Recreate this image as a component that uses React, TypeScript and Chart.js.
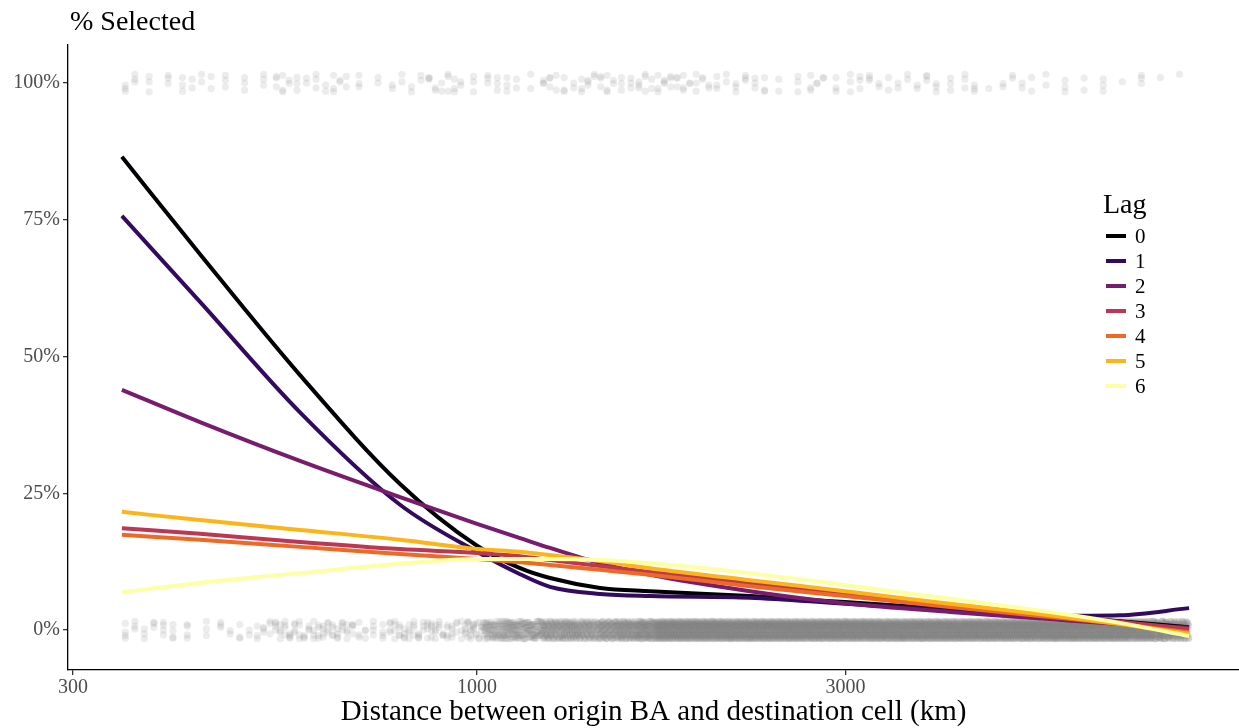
import { useEffect, useRef } from 'react';
import { Chart, registerables } from 'chart.js';

Chart.register(...registerables);

// ---- Data ----
const DISTANCE_KM = [347, 438, 590, 795, 1000, 1137, 1243, 1443, 1675, 2256, 2994, 4095, 5516, 6797, 8350];
const LAG_0 = [86.5, 68.7, 46.6, 26.7, 15.4, 11.3, 9.5, 7.7, 7.1, 6.2, 5.1, 3.8, 2.6, 1.6, 0.5];
const LAG_1 = [75.7, 60.0, 39.8, 22.9, 14.3, 10.2, 7.9, 6.6, 6.2, 5.9, 4.8, 3.7, 2.6, 2.7, 4.0];
const LAG_2 = [43.9, 38.0, 30.9, 24.3, 19.4, 16.8, 15.0, 12.2, 10.1, 7.1, 4.9, 3.3, 2.0, 1.1, 0.4];
const LAG_3 = [18.6, 17.6, 16.1, 14.8, 14.1, 13.5, 12.8, 11.7, 10.6, 8.6, 6.6, 4.6, 2.7, 1.5, 0.2];
const LAG_4 = [17.4, 16.5, 15.2, 13.9, 13.0, 12.4, 11.9, 11.0, 10.1, 8.0, 6.2, 4.2, 2.4, 1.1, -0.4];
const LAG_5 = [21.6, 20.1, 18.3, 16.5, 14.8, 14.3, 13.7, 12.6, 11.3, 9.1, 7.1, 4.8, 2.7, 1.1, -0.7];
const LAG_6 = [6.9, 8.6, 10.4, 12.1, 13.0, 13.0, 13.0, 12.8, 12.2, 10.4, 8.2, 5.7, 3.3, 1.3, -1.1];
const LAG_SERIES = [LAG_0, LAG_1, LAG_2, LAG_3, LAG_4, LAG_5, LAG_6];
const LAG_LABELS = ['0', '1', '2', '3', '4', '5', '6'];
const LAG_COLORS = ['#000004', '#320A5E', '#781C6D', '#BB3754', '#ED6925', '#FCB519', '#FCFFA4'];

const X_TICKS = [300, 1000, 3000];
const Y_TICKS = [0, 25, 50, 75, 100];

// Observed cells (jittered rug at 100% and 0%), counts per log10-distance bin
const BIN_LOG_START = 2.5385;
const BIN_LOG_STEP = 0.0247;
const SELECTED_COUNTS = [6, 3, 3, 5, 4, 3, 3, 3, 8, 5, 5, 7, 3, 2, 4, 4, 7, 8, 3, 6, 5, 2, 8, 5, 8, 8, 6, 8, 9, 8, 7, 5, 6, 6, 2, 3, 7, 3, 6, 5, 4, 4, 6, 3, 6, 1, 4, 4, 2, 3, 2, 3, 1, 3, 1, 1];
const NOT_SELECTED_COUNTS = [7, 6, 8, 4, 3, 5, 5, 9, 16, 14, 16, 16, 10, 8, 16, 15, 18, 14, 25, 60, 75, 70, 90, 95, 85, 100, 110, 125, 160, 160, 160, 160, 160, 160, 160, 160, 160, 160, 160, 160, 160, 160, 160, 160, 160, 160, 160, 160, 160, 160, 160, 160, 160, 150, 140, 110];
const JITTER = [-1.5, 0.7, -0.4, 1.6, -1.0, 0.2, 1.2, -1.6, 0.5, -0.7, 1.4, -0.1, 0.9, -1.3, 0.0, 1.0, -0.9];

const FONT = "'Liberation Serif', 'DejaVu Serif', serif";

function bandPoints(counts: number[], level: number, perColumn: number) {
  const pts: { x: number; y: number }[] = [];
  counts.forEach((n, k) => {
    const cols = Math.max(1, Math.ceil(n / perColumn));
    for (let i = 0; i < n; i++) {
      const col = i % cols;
      const lg = BIN_LOG_START + (k + (col + 0.5) / cols) * BIN_LOG_STEP;
      pts.push({ x: Math.pow(10, lg), y: level + JITTER[(i + k * 5) % JITTER.length] });
    }
  });
  return pts;
}

const overlayPlugin = {
  id: 'overlay',
  afterDraw(chart: any) {
    const ctx = chart.ctx as CanvasRenderingContext2D;
    const area = chart.chartArea;
    ctx.save();
    ctx.fillStyle = '#000';
    ctx.textAlign = 'left';
    ctx.textBaseline = 'middle';
    ctx.font = `28px ${FONT}`;
    ctx.fillText('% Selected', area.left + 2, 23);
    // legend
    const lx = area.right - 136;
    ctx.fillText('Lag', lx, 206);
    ctx.font = `21px ${FONT}`;
    LAG_LABELS.forEach((lab, i) => {
      const y = 236 + i * 25;
      ctx.strokeStyle = LAG_COLORS[i];
      ctx.lineWidth = 4;
      ctx.lineCap = 'butt';
      ctx.beginPath();
      ctx.moveTo(lx + 3, y);
      ctx.lineTo(lx + 23, y);
      ctx.stroke();
      ctx.fillText(lab, lx + 32, y + 1);
    });
    ctx.restore();
  },
};

export default function App() {
  const ref = useRef<HTMLCanvasElement | null>(null);

  useEffect(() => {
    document.body.style.margin = '0';
    const canvas = ref.current;
    if (!canvas) return;

    const lineSets = LAG_SERIES.map((series, i) => ({
      label: LAG_LABELS[i],
      data: DISTANCE_KM.map((x, j) => ({ x, y: series[j] })),
      showLine: true,
      borderColor: LAG_COLORS[i],
      backgroundColor: LAG_COLORS[i],
      borderWidth: 4,
      pointRadius: 0,
      cubicInterpolationMode: 'monotone' as const,
      fill: false,
      borderCapStyle: 'butt' as const,
      order: 6 - i,
    }));

    const pointStyle = {
      showLine: false,
      pointRadius: 3.6,
      pointBackgroundColor: 'rgba(127,127,127,0.15)',
      pointBorderWidth: 0,
      pointBorderColor: 'rgba(0,0,0,0)',
      order: 100,
    };

    const chart = new Chart(canvas, {
      type: 'scatter',
      data: {
        datasets: [
          { label: 'selected', data: bandPoints(SELECTED_COUNTS, 100, 3), ...pointStyle },
          { label: 'not selected', data: bandPoints(NOT_SELECTED_COUNTS, 0, 4), ...pointStyle },
          ...lineSets,
        ] as any,
      },
      options: {
        animation: false,
        responsive: false,
        devicePixelRatio: 1,
        events: [],
        layout: { autoPadding: false, padding: { top: 45, left: 0, right: 0, bottom: 0 } },
        plugins: {
          legend: { display: false },
          tooltip: { enabled: false },
        },
        scales: {
          x: {
            type: 'logarithmic',
            min: 295.5,
            max: 9690,
            afterBuildTicks: (s: any) => {
              s.ticks = X_TICKS.map((v) => ({ value: v }));
            },
            afterFit: (s: any) => {
              s.height = 58;
            },
            grid: {
              display: true,
              drawOnChartArea: false,
              drawTicks: true,
              tickLength: 5,
              color: '#333333',
              lineWidth: 1.3,
            },
            border: { display: true, color: '#000', width: 1.3 },
            ticks: {
              color: '#4D4D4D',
              font: { family: FONT, size: 20 },
              padding: 1,
              maxRotation: 0,
              autoSkip: false,
              callback: (v: any) => String(v),
            },
            title: {
              display: true,
              text: 'Distance between origin BA and destination cell (km)',
              color: '#000',
              font: { family: FONT, size: 29 },
              padding: { top: 0, bottom: -2 },
            },
          },
          y: {
            type: 'linear',
            min: -7.31,
            max: 106.95,
            afterBuildTicks: (s: any) => {
              s.ticks = Y_TICKS.map((v) => ({ value: v }));
            },
            afterFit: (s: any) => {
              s.width = 68;
            },
            grid: {
              display: true,
              drawOnChartArea: false,
              drawTicks: true,
              tickLength: 5,
              color: '#333333',
              lineWidth: 1.3,
            },
            border: { display: true, color: '#000', width: 1.3 },
            ticks: {
              color: '#4D4D4D',
              font: { family: FONT, size: 20 },
              padding: 3,
              callback: (v: any) => `${v}%`,
            },
          },
        },
      } as any,
      plugins: [overlayPlugin],
    });

    return () => chart.destroy();
  }, []);

  return (
    <div style={{ position: 'fixed', left: 0, top: 0, width: 1239, height: 728, background: '#fff' }}>
      <canvas ref={ref} width={1239} height={728} style={{ width: 1239, height: 728, display: 'block' }} />
    </div>
  );
}
